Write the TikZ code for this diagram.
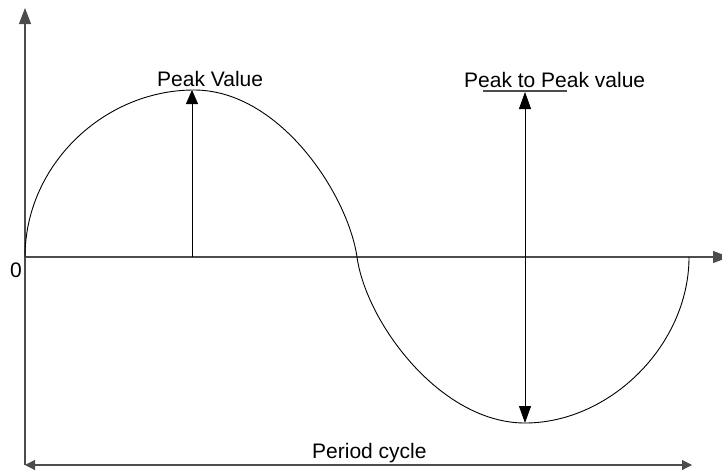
\documentclass[tikz,border=0pt]{standalone}
\usepackage{fontspec}
\setmainfont{Liberation Sans}
\usetikzlibrary{arrows.meta}
\begin{document}
\begin{tikzpicture}[x=1pt,y=-1pt,
  axisline/.style={draw=black!70,line width=1.1pt},
  curveline/.style={draw=black,line width=0.9pt},
  bigtip/.style={-{Triangle[length=16pt,width=12pt]}},
  smalltips/.style={{Triangle[length=10pt,width=10pt]}-{Triangle[length=10pt,width=10pt]}},
  lbl/.style={inner sep=0pt,anchor=base west,font=\fontsize{21}{25}\selectfont}]
\useasboundingbox (0,0) rectangle (722,471);
% coordinates
\coordinate (O) at (25,257);
\coordinate (ytop) at (25,8);
\coordinate (ybot) at (25,465);
\coordinate (xend) at (729,257);
\coordinate (peak) at (194,90);
\coordinate (mid) at (357,257);
\coordinate (trough) at (525,423);
\coordinate (cend) at (689,257);
\coordinate (pvbase) at (192,257);
\coordinate (pvtop) at (192,90);
\coordinate (pptop) at (525,92);
\coordinate (ppbot) at (525,423);
\coordinate (ppl) at (483,91);
\coordinate (ppr) at (567,91);
\coordinate (perl) at (25,465);
\coordinate (perr) at (692,465);
% axes
\draw[axisline,bigtip] (ybot) -- (ytop);
\draw[axisline,bigtip] (O) -- (xend);
% curve
\draw[curveline] (O) .. controls (25,165) and (104,90) .. (peak)
  .. controls (280,90) and (348,195) .. (mid)
  .. controls (366,322) and (440,423) .. (trough)
  .. controls (610,423) and (689,345) .. (cend);
% peak value arrow
\draw[black,line width=0.9pt,-{Triangle[length=14pt,width=12pt]}] (pvbase) -- (pvtop);
% peak to peak
\draw[axisline] (ppl) -- (ppr);
\draw[black,line width=0.9pt,{Triangle[length=17pt,width=12pt]}-{Triangle[length=17pt,width=12pt]}] (pptop) -- (ppbot);
% period
\draw[axisline,smalltips] (perl) -- (perr);
% labels
\node[lbl] (zero) at (10,277) {0};
\node[lbl] (pv) at (157,86) {Peak Value};
\node[lbl] (pp) at (464,87) {Peak to Peak value};
\node[lbl] (pc) at (312,458) {Period cycle};
\end{tikzpicture}
\end{document}
